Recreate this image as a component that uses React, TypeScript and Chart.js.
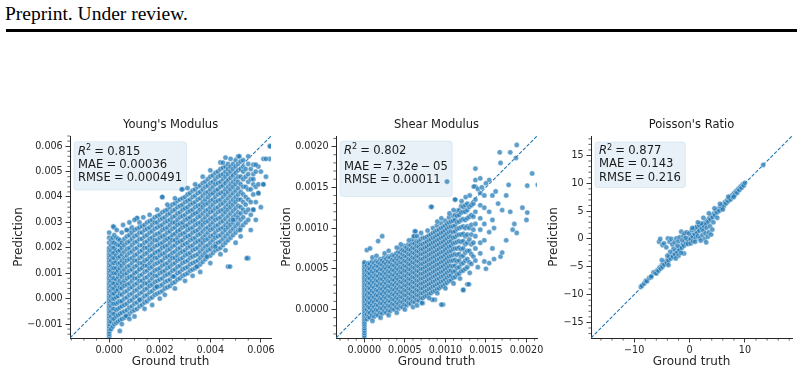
import React, { useEffect, useRef } from 'react';
import { Chart, registerables } from 'chart.js';

Chart.register(...registerables);

const FONT = "'DejaVu Sans', 'Noto Sans', sans-serif";
const INK = '#262626';
const BLUE = '#1f77b4';

// ---------------- data ----------------
const panelTitles = ["Young's Modulus", 'Shear Modulus', "Poisson's Ratio"];
const metricNames = ['R2', 'MAE', 'RMSE'];
const youngMetrics = ['0.815', '0.00036', '0.000491'];
const shearMetrics = ['0.802', '7.32e-05', '0.00011'];
const poissonMetrics = ['0.877', '0.143', '0.216'];

const youngLimits = [-0.00155, 0.0064];
const shearLimits = [-0.00035, 0.00213];
const poissonLimits = [-17.8, 18.5];

const youngXTicks = [0, 0.002, 0.004, 0.006];
const youngXTickLabels = ['0.000', '0.002', '0.004', '0.006'];
const youngYTicks = [-0.001, 0, 0.001, 0.002, 0.003, 0.004, 0.005, 0.006];
const youngYTickLabels = ['\u22120.001', '0.000', '0.001', '0.002', '0.003', '0.004', '0.005', '0.006'];
const shearTicks = [0, 0.0005, 0.001, 0.0015, 0.002];
const shearTickLabels = ['0.0000', '0.0005', '0.0010', '0.0015', '0.0020'];
const poissonXTicks = [-10, 0, 10];
const poissonXTickLabels = ['\u221210', '0', '10'];
const poissonYTicks = [-15, -10, -5, 0, 5, 10, 15];
const poissonYTickLabels = ['\u221215', '\u221210', '\u22125', '0', '5', '10', '15'];

// Young's modulus: [ground truth, predictions...] in units of 1e-4
const youngUnit = 1e-4;
const youngColumns: number[][] = [
  [0, -15, -14, -13, -12, -11, -10, -9, -8, -7, -6, -5, -4, -3, -2, -1, 0, 1, 2, 3, 4, 5, 6, 7, 8, 9, 10, 11, 12, 13, 14, 15, 16, 17, 18, 19, 20, 22, 24, 26],
  [0.8, -12, -9, -7, -5, -3, -1, 1, 3, 5, 7, 9, 11, 13, 15, 17, 19, 21, 23],
  [1.4, -11, -8, -6, -4, -2, 0, 2, 4, 6, 8, 10, 12, 14, 16, 18, 20, 22, 24],
  [2, -10, -8, -6, -4, -2, 0, 2, 4, 6, 8, 10, 12, 14, 16, 18, 20, 22, 25, 28],
  [2.8, -9.5, -7, -4.5, -2, 0.5, 3, 5, 7.5, 10, 12, 14.5, 17, 19, 21.5, 24],
  [3.5, -9, -6.5, -4, -1.5, 1, 3.5, 6, 8.5, 11, 13.5, 16, 18.5, 21, 23.5],
  [4.2, -8.5, -6, -3.5, -1, 2, 4.5, 7, 9.5, 12, 14, 16.5, 19, 21, 23],
  [5, -8, -5.5, -3, -1, 1.5, 4, 6, 8.5, 10.5, 13, 15, 17.5, 20, 22, 26],
  [6, -7.5, -5, -2.5, 0, 2.5, 5, 7, 9.5, 11.5, 14, 16, 18.5, 21, 23.5],
  [7, -7, -4.5, -2, 0.5, 3, 5.5, 8, 10, 12.5, 15, 17, 19.5, 22, 24.5, 27],
  [8, -6, -3.5, -1, 1.5, 4, 6, 8.5, 11, 13, 15.5, 18, 20, 22.5, 25, 27],
  [9, -5, -3, -0.5, 2, 4.5, 7, 9, 11.5, 14, 16, 18.5, 21, 23.5, 26, 28],
  [10, -4.5, -2, 0.5, 3, 5.5, 8, 10, 12.5, 15, 17, 19.5, 22, 24.5, 27],
  [11, -4, -1.5, 1, 3.5, 6, 8, 10.5, 13, 15, 17.5, 20, 22.5, 25, 27.5, 31.7],
  [12, -3, -0.5, 2, 4.5, 7, 9, 11.5, 14, 16, 18.5, 21, 23.5, 26, 28, 30],
  [13, -2.5, 0, 2.5, 5, 7, 9.5, 12, 14, 16.5, 19, 21, 23.5, 26, 28.5],
  [14, -1.5, 1, 3.5, 6, 8, 10.5, 13, 15, 17.5, 20, 22, 24.5, 27, 29],
  [15, -1, 1.5, 4, 6, 8.5, 11, 13, 15.5, 18, 20, 22.5, 25, 27.5, 30],
  [16, 0, 2.5, 5, 7, 9.5, 12, 14, 16.5, 19, 21, 23.5, 26, 28, 30.5],
  [17, 0.5, 3, 5.5, 8, 10, 12.5, 15, 17, 19.5, 22, 24, 26.5, 29, 31],
  [18, 1.5, 4, 6.5, 9, 11, 13.5, 16, 18, 20.5, 23, 25, 27.5, 30, 32],
  [19, 2, 4.5, 7, 9, 11.5, 14, 16, 18.5, 21, 23, 25.5, 28, 30, 32.5],
  [20, 2.5, 5, 7.5, 10, 12, 14.5, 17, 19, 21.5, 24, 26, 28.5, 31, 33],
  [21, 3, 5.5, 8, 10.5, 13, 15, 17.5, 20, 22, 24.5, 27, 29, 31.5, 34, 40],
  [22, 4, 6.5, 9, 11, 13.5, 16, 18, 20.5, 23, 25, 27.5, 30, 32, 34.5],
  [23, 4.5, 7, 9.5, 12, 14, 16.5, 19, 21, 23.5, 26, 28, 30.5, 33, 35],
  [24, 5, 7.5, 10, 12.5, 15, 17, 19.5, 22, 24, 26.5, 29, 31, 33.5, 36],
  [25, 6, 8.7, 11, 13.5, 16, 18, 20.5, 23, 25, 27.5, 30, 32, 34.5, 37],
  [26, 6.5, 9, 11.5, 14, 16, 18.5, 21, 23, 25.5, 28, 30, 32.5, 35, 37.5],
  [27, 7.5, 10, 12.5, 15, 17, 19.5, 22, 24, 26.5, 29, 31, 33.5, 36, 38.5],
  [28, 8, 10.5, 13, 15.5, 18, 20, 22.5, 25, 27, 29.5, 32, 34, 36.5, 39],
  [29, 9, 11.5, 14, 16, 18.5, 21, 23, 25.5, 28, 30, 32.5, 35, 37, 39.5, 43],
  [30, 9.5, 12, 14.5, 17, 19, 21.5, 24, 26, 28.5, 31, 33, 35.5, 38, 40],
  [31, 10, 12.5, 15, 17.5, 20, 22, 24.5, 27, 29, 31.5, 34, 36, 38.5, 41],
  [32, 11, 13.5, 16, 18, 20.5, 23, 25, 27.5, 30, 32, 34.5, 37, 39, 41.5],
  [33, 11.5, 14, 16.5, 19, 21, 23.5, 26, 28, 30.5, 33, 35, 37.5, 40, 42.5],
  [34, 12, 14.5, 17, 19.5, 22, 24, 26.5, 29, 31, 33.5, 36, 38, 40.5, 43],
  [35, 12.6, 15, 17.5, 20, 22.5, 25, 27, 29.5, 32, 34, 36.5, 39, 41.5, 44],
  [36, 13.5, 16, 18.5, 21, 23, 25.5, 28, 30, 32.5, 35, 37, 39.5, 42, 44.5],
  [37, 14.5, 17, 19.5, 22, 24, 26.5, 29, 31, 33.5, 36, 38, 40.5, 43, 45.5],
  [38, 15.5, 18, 20.5, 23, 25, 27.5, 30, 32, 34.5, 37, 39, 41.5, 44, 46],
  [39, 16.5, 19, 21, 23.5, 26, 28, 30.5, 33, 35, 37.5, 40, 42, 44.5, 47],
  [40, 17, 19.5, 22, 24.5, 27, 29, 31.5, 34, 36, 38.5, 41, 43, 45.5, 48],
  [41, 18, 20.5, 23, 25, 27.5, 30, 32, 34.5, 37, 39, 41.5, 44, 46, 48.5],
  [42, 19, 21.5, 24, 26, 28.5, 31, 33, 35.5, 38, 40, 42.5, 45, 47, 49.5],
  [43, 19.5, 22, 24.5, 27, 29, 31.5, 34, 36, 38.5, 41, 43, 45.5, 48, 50],
  [44, 20, 22.5, 25, 27.5, 30, 32, 34.5, 37, 39, 41.5, 44, 46, 48.5, 51],
  [45, 21, 23.5, 26, 28, 30.5, 33, 35, 37.5, 40, 42, 44.5, 47, 49, 51.5],
  [46, 22, 24.5, 27, 29, 31.5, 34, 36, 38.5, 41, 43, 45.5, 48, 50, 52],
  [47, 12.6, 23, 25.5, 28, 30, 32.5, 35, 37, 39.5, 42, 44, 46.5, 49, 51, 53],
  [48, 24, 26.5, 29, 31, 33.5, 36, 38, 40.5, 43, 45, 47.5, 50, 52],
  [49, 25, 27.5, 30, 32, 34.5, 37, 39, 41.5, 44, 46, 48.5, 51, 53],
  [50, 26, 28.5, 31, 33, 35.5, 38, 40, 42.5, 45, 47, 49.5, 52, 54.5],
  [51, 27, 29.5, 32, 34, 36.5, 39, 41, 43.5, 46, 48, 50.5, 53, 56],
  [52, 28, 31, 33.5, 36, 39, 42, 45, 48, 51, 54],
  [53, 29, 32, 35, 38, 41, 44, 47, 50, 52],
  [54, 30, 34, 37, 40, 44, 48, 51],
  [55, 15.9, 31, 35, 39, 43, 46, 49, 53],
  [56, 33, 38, 43, 47, 51],
  [57, 35, 41, 45, 49, 52.7],
  [58, 38, 44, 50],
  [59, 41.5, 45, 52],
  [61, 45, 55],
  [63.5, 55, 60],
];
const youngOutliers: number[][] = [
  [1.6, 28.4], [4.2, -12.7], [6.6, -6.8], [6.9, 27], [11, 31.7], [12, -0.5], [18.8, 4.7], [21, 40],
  [25.4, 8.7], [28.7, 43], [34.6, 12.6], [38.6, 16.5], [42, 20.5], [44, 53.6], [47.8, 12.6], [49, 31],
  [51.5, 56], [51.8, 27], [54.4, 15.9], [57, 35], [58, 52.7], [59, 41.5], [61, 45], [62, 55], [63.7, 60],
  [3, 27], [5.5, 29], [8, 30], [10, 31], [13.5, 32], [16, 33], [19, 35], [23, 37], [26, 39.5], [31, 43.5],
  [34, 45], [37, 48], [40, 50.5], [45, 53.5], [48, 55], [53, 54.5], [55, 56], [46, 55.5],
  [5, -10], [8, -8], [10, -7], [14, -4], [17, -2.5], [20, 0], [22, 1.5], [26, 4], [30, 7], [33, 9],
  [36, 10.5], [40, 14], [44, 17.5], [46, 19], [50, 22], [52, 24.5], [56, 27], [58, 31], [60, 36],
  [62, 48], [60, 50], [57, 47],
];

// Shear modulus: [ground truth, predictions...] in units of 1e-5
const shearUnit = 1e-5;
const shearColumns: number[][] = [
  [0, -35, -32, -29, -26, -23, -20, -18, -16, -14, -12, -10, -8, -6, -4, -2, 0, 2, 4, 6, 8, 10, 12, 14, 16, 18, 20, 22, 24, 26, 28, 30, 32, 34, 36, 38, 40, 42, 44, 46, 48, 50, 52, 54, 56, 58],
  [3, -12, -6, 0, 6, 12, 18, 24, 30, 36, 42, 48, 54, 73],
  [5, -9, -3, 3, 9, 15, 21, 27, 33, 39, 45, 51, 57],
  [7, -10, -4, 2, 8, 14, 20, 26, 32, 38, 44, 50, 56, 75],
  [9.5, -7, -1, 5, 11, 17, 23, 29, 35, 41, 47, 53, 59],
  [12, -9, -3, 3, 9, 15, 21, 27, 33, 39, 45, 51, 57],
  [14.5, -6, 0, 6, 12, 18, 24, 30, 36, 42, 48, 54, 60],
  [17, -7, -1, 5, 11, 17, 23, 29, 35, 41, 47, 53, 58, 84],
  [19.5, -4, 2, 8, 14, 20, 26, 32, 38, 44, 50, 56, 62],
  [22, -5, 1, 7, 13, 19, 25, 31, 37, 43, 49, 55, 60, 90],
  [24.5, -2, 4, 10, 16, 22, 28, 34, 40, 46, 52, 58, 64],
  [27, -4, 2, 8, 14, 20, 26, 32, 38, 44, 50, 56, 62],
  [29.5, -1, 5, 11, 17, 23, 29, 35, 41, 47, 53, 59, 65],
  [32, -2, 4, 10, 16, 22, 28, 34, 40, 46, 52, 58, 64],
  [34.5, 1, 7, 13, 19, 25, 31, 37, 43, 49, 55, 61, 67],
  [37, 0, 6, 12, 18, 24, 30, 36, 42, 48, 54, 60, 66],
  [39.5, 3, 9, 15, 21, 27, 33, 39, 45, 51, 57, 63, 69],
  [42, 1, 7, 13, 19, 25, 31, 37, 43, 49, 55, 61, 66, 71],
  [44.5, 4, 10, 16, 22, 28, 34, 40, 46, 52, 58, 64, 70, 75],
  [47, 3, 9, 15, 21, 27, 33, 39, 45, 51, 57, 63, 68, 73],
  [49.5, 6, 12, 18, 24, 30, 36, 42, 48, 54, 60, 66, 72, 78],
  [52, 5, 11, 17, 23, 29, 35, 41, 47, 53, 59, 65, 71, 76],
  [54.5, 8, 14, 20, 26, 32, 38, 44, 50, 56, 62, 68, 74, 80],
  [57, 7, 13, 19, 25, 31, 37, 43, 49, 55, 61, 67, 73, 79],
  [59.5, 10, 16, 22, 28, 34, 40, 46, 52, 58, 64, 70, 76, 82, 86],
  [62, 9, 15, 21, 27, 33, 39, 45, 51, 57, 63, 69, 75, 81, 90, 96],
  [64.5, 12, 18, 24, 30, 36, 42, 48, 54, 60, 66, 72, 78, 84],
  [67, 11, 17, 23, 29, 35, 41, 47, 53, 59, 65, 71, 77, 83],
  [69.5, 14, 20, 26, 32, 38, 44, 50, 56, 62, 68, 74, 80, 86],
  [72, 8, 14, 20, 26, 32, 38, 44, 50, 56, 62, 68, 74, 80, 88],
  [74.5, 16, 22, 28, 34, 40, 46, 52, 58, 64, 70, 76, 82, 88],
  [77, 17, 23, 29, 35, 41, 47, 53, 59, 65, 71, 77, 83, 89],
  [79.5, 19, 25, 31, 37, 43, 49, 55, 61, 67, 73, 79, 85, 91],
  [82, 20, 26, 32, 38, 44, 50, 56, 62, 68, 74, 80, 86, 92, 126],
  [84.5, 22, 28, 34, 40, 46, 52, 58, 64, 70, 76, 82, 88, 94, 100],
  [87, 12, 23, 29, 35, 41, 47, 53, 59, 65, 71, 77, 83, 89, 95],
  [89.5, 25, 31, 37, 43, 49, 55, 61, 67, 73, 79, 85, 91, 97, 103],
  [92, 26, 32, 38, 44, 50, 56, 62, 68, 74, 80, 86, 92, 98],
  [94.5, 28, 34, 40, 46, 52, 58, 64, 70, 76, 82, 88, 94, 100, 106],
  [97, 6, 29, 35, 41, 47, 53, 59, 65, 71, 77, 83, 89, 95, 101],
  [99.5, 31, 37, 43, 49, 55, 61, 67, 73, 79, 85, 91, 97, 103, 109],
  [102, 33, 39, 45, 51, 57, 63, 69, 75, 81, 87, 93, 99, 105, 157],
  [104.5, 35, 41, 47, 53, 59, 65, 71, 77, 83, 89, 95, 101, 107, 113],
  [107, 36, 42, 48, 54, 60, 66, 72, 78, 84, 90, 96, 102, 108],
  [109.5, 39, 46, 53, 60, 67, 74, 81, 88, 95, 102, 109, 115],
  [112, 40, 47, 54, 61, 68, 75, 82, 89, 96, 103, 110, 116, 135],
  [114.5, 43, 51, 59, 67, 75, 83, 91, 99, 107, 115, 121],
  [117, 44, 52, 60, 68, 76, 84, 92, 100, 108, 116, 122],
  [119.5, 47, 56, 65, 74, 83, 92, 101, 110, 119, 127],
  [122, 24, 48, 57, 66, 75, 84, 93, 102, 111, 120, 126],
  [124.5, 50, 60, 70, 80, 90, 100, 110, 120, 128],
  [127, 31, 52, 62, 72, 82, 92, 102, 112, 122, 130],
  [129.5, 58, 72, 86, 100, 114, 126],
  [132, 56, 68, 80, 92, 104, 116, 128],
  [134.5, 65, 82, 98, 114, 130],
  [137, 60, 75, 90, 105, 120, 135, 151, 159, 173],
  [143, 69, 82, 98, 112, 128, 143, 161],
  [148, 59, 85, 105, 125, 140],
  [154, 57, 95, 120, 159],
  [158, 75, 110, 140],
];
const shearOutliers: number[][] = [
  [162, 145], [167, 193], [168, 180], [168, 65], [170, 122], [178, 153], [180, 193], [183, 98],
  [187, 186], [188, 202], [188, 94], [200, 110], [201, 119], [201, 152], [207, 167], [214, 153],
  [63, 96], [61, 90], [83, 126], [112, 135], [135, 151], [122, 24], [129, 31], [84, 12], [71, 8], [95, 6],
  [10, 64], [15, 66], [25, 69], [30, 72], [40, 76], [45, 80], [55, 85], [65, 90], [70, 94], [78, 97],
  [90, 108], [95, 112], [105, 118], [110, 122], [120, 133], [125, 138], [130, 140], [140, 148], [145, 150],
  [150, 155], [10, -14], [20, -10], [30, -7], [40, -4], [50, 0], [60, 3], [65, 5], [80, 14], [90, 20],
  [100, 26], [110, 32], [118, 38], [130, 45], [140, 52], [150, 50], [160, 62], [170, 70], [175, 85],
  [185, 105], [195, 125], [160, 100], [165, 130], [175, 140], [180, 120],
];

// Poisson's ratio: [ground truth, prediction]
const poissonPoints: number[][] = [
  [-8.8, -8.6], [-8.6, -8.4], [-8.2, -8.0], [-7.9, -7.5], [-7.7, -7.6], [-7.3, -7.0], [-7.0, -6.9], [-6.9, -6.7],
  [-6.5, -6.0], [-6.2, -6.0], [-6.0, -6.2], [-5.8, -5.6], [-5.6, -5.7], [-5.4, -5.1], [-5.2, -5.3], [-5.0, -4.7],
  [-4.9, -5.0], [-4.7, -4.4], [-4.5, -4.6], [-4.3, -4.0], [-4.1, -4.3], [-3.9, -3.6], [-3.8, -3.9], [-3.6, -3.2],
  [-3.4, -3.5], [-3.2, -2.9], [-3.0, -3.2], [-2.8, -2.5], [-2.6, -2.8], [-2.4, -2.1], [-2.2, -2.4], [-2.0, -1.7],
  [-1.8, -2.0], [-1.6, -1.3], [-1.4, -1.6], [-1.2, -0.9], [-1.0, -1.2], [-0.8, -0.5], [-0.6, -0.8], [-0.4, -0.2],
  [-0.2, -0.4], [0, 0.2], [0.2, 0], [0.4, 0.6], [0.6, 0.4], [0.8, 1.0], [1.0, 0.8], [1.2, 1.4], [1.4, 1.1],
  [1.6, 1.8], [1.8, 1.5], [2.0, 2.2], [2.2, 1.9], [2.4, 2.6], [2.6, 2.3], [2.8, 3.0], [3.0, 2.7], [3.2, 3.4],
  [3.4, 3.1], [3.6, 3.8], [3.8, 3.5], [4.0, 4.2], [4.2, 3.9], [4.4, 4.6], [4.6, 4.3], [4.8, 5.0], [5.0, 4.8],
  [5.2, 5.4], [5.4, 5.1], [5.6, 5.8], [5.8, 5.6], [6.0, 6.2], [6.2, 5.9], [6.4, 6.6], [6.6, 6.4], [6.8, 7.0],
  [7.0, 6.8], [7.2, 7.3], [7.4, 7.1], [7.6, 7.8], [7.8, 7.5], [8.0, 8.2], [8.2, 8.0], [8.4, 8.6], [8.6, 8.3],
  [8.8, 9.0], [9.0, 8.8], [9.2, 9.4], [9.4, 9.2], [9.6, 9.8], [9.8, 9.6], [10.0, 10.1], [13.3, 13.3],
  [-5.5, -0.5], [-5.3, 0], [-4.9, -1.1], [-4.6, -0.8], [-4.2, -1.5], [-3.9, 0.1], [-3.6, -0.5], [-3.3, 0],
  [-3.1, -1.0], [-2.9, -1.8], [-2.7, -0.6], [-2.4, 0.1], [-2.2, -1.2], [-2.0, -0.4], [-1.8, 0.3], [-1.5, 1.3],
  [-1.3, -0.2], [-1.1, 0.6], [-0.9, 1.0], [-0.7, 0.2], [-0.5, 1.2], [-0.3, -0.9], [-0.1, 1.0], [0.2, -0.8],
  [0.4, 1.6], [0.6, -0.4], [0.9, 1.9], [1.1, 0.1], [1.3, 2.2], [1.5, 0.5], [1.7, 2.5], [1.9, 0.2], [2.1, 2.8],
  [2.3, 0.7], [2.5, 1.5], [2.7, 0.0], [2.9, 1.0], [3.1, 2.0], [3.3, 0.4], [3.5, 1.2], [3.7, 2.3], [3.9, 0.8],
  [4.1, 1.7], [4.3, 3.0], [3.0, -0.6], [2.0, -0.3], [1.0, -0.5], [-1.0, -2.6], [-2.0, -3.0], [-3.5, -2.3],
  [-4.0, -3.0], [-5.0, -3.8], [-3.8, -4.7], [-2.5, -3.5], [-1.5, -2.5], [0.5, 2.0], [1.5, 3.0], [2.5, 3.8],
  [3.5, 4.6], [4.5, 5.5], [5.5, 6.3], [5.0, 3.8], [6.0, 5.3], [7.0, 7.6], [8.0, 7.6],
];

// ---------------- helpers ----------------
type Pt = { x: number; y: number };
function fromColumns(cols: number[][], unit: number): Pt[] {
  const out: Pt[] = [];
  for (const [gt, ...preds] of cols) for (const p of preds) out.push({ x: gt * unit, y: p * unit });
  return out;
}
function fromPairs(pairs: number[][], unit: number): Pt[] {
  return pairs.map(([x, y]) => ({ x: x * unit, y: y * unit }));
}

type Seg = { t: string; it?: boolean; sup?: boolean; gap?: number };
function metricSegs(name: string, value: string): Seg[] {
  const out: Seg[] = [];
  if (name === 'R2') {
    out.push({ t: 'R', it: true });
    out.push({ t: '2', sup: true });
  } else out.push({ t: name });
  out.push({ t: '=', gap: 0.27 });
  const m = value.match(/^([\d.]+)e-(\d+)$/);
  if (m) {
    out.push({ t: m[1] });
    out.push({ t: 'e', it: true });
    out.push({ t: '\u2212', gap: 0.22 });
    out.push({ t: m[2] });
  } else out.push({ t: value });
  return out;
}
function segFont(s: Seg, size: number) {
  const fs = s.sup ? size * 0.7 : size;
  return `${s.it ? 'italic ' : ''}${fs}px ${FONT}`;
}
function measureSegs(ctx: CanvasRenderingContext2D, segs: Seg[], size: number) {
  let w = 0;
  for (const s of segs) {
    ctx.font = segFont(s, size);
    w += ctx.measureText(s.t).width + (s.gap ? 2 * s.gap * size : 0);
  }
  return w;
}
function drawSegs(ctx: CanvasRenderingContext2D, x: number, yMid: number, segs: Seg[], size: number) {
  let cx = x;
  const base = yMid + size * 0.36;
  for (const s of segs) {
    ctx.font = segFont(s, size);
    if (s.gap) cx += s.gap * size;
    ctx.fillText(s.t, cx, s.sup ? base - size * 0.38 : base);
    cx += ctx.measureText(s.t).width;
    if (s.gap) cx += s.gap * size;
  }
}
function roundRect(ctx: CanvasRenderingContext2D, x: number, y: number, w: number, h: number, r: number) {
  ctx.beginPath();
  ctx.moveTo(x + r, y);
  ctx.arcTo(x + w, y, x + w, y + h, r);
  ctx.arcTo(x + w, y + h, x, y + h, r);
  ctx.arcTo(x, y + h, x, y, r);
  ctx.arcTo(x, y, x + w, y, r);
  ctx.closePath();
}

interface PanelCfg {
  title: string;
  metrics: string[];
  points: Pt[];
  limits: number[];
  xTicks: number[];
  xLabels: string[];
  yTicks: number[];
  yLabels: string[];
  minorX: number;
  minorY: number;
  canvasLeft: number;
  canvasWidth: number;
  areaLeft: number;
  yTitlePad: number;
  lineYs: number[];
  boxTop: number;
  boxBottom: number;
}

const PANELS: PanelCfg[] = [
  {
    title: panelTitles[0], metrics: youngMetrics,
    points: [...fromColumns(youngColumns, youngUnit), ...fromPairs(youngOutliers, youngUnit)],
    limits: youngLimits, xTicks: youngXTicks, xLabels: youngXTickLabels, yTicks: youngYTicks, yLabels: youngYTickLabels,
    minorX: 0.0005, minorY: 0.0002,
    canvasLeft: 0, canvasWidth: 283, areaLeft: 70, yTitlePad: 11.8,
    lineYs: [14.7, 27.5, 40.7], boxTop: 5.7, boxBottom: 54,
  },
  {
    title: panelTitles[1], metrics: shearMetrics,
    points: [...fromColumns(shearColumns, shearUnit), ...fromPairs(shearOutliers, shearUnit)],
    limits: shearLimits, xTicks: shearTicks, xLabels: shearTickLabels, yTicks: shearTicks, yLabels: shearTickLabels,
    minorX: 0.0001, minorY: 0.0001,
    canvasLeft: 276, canvasWidth: 273, areaLeft: 336, yTitlePad: 3.5,
    lineYs: [13.5, 29.5, 42.5], boxTop: 5, boxBottom: 60.5,
  },
  {
    title: panelTitles[2], metrics: poissonMetrics,
    points: fromPairs(poissonPoints, 1),
    limits: poissonLimits, xTicks: poissonXTicks, xLabels: poissonXTickLabels, yTicks: poissonYTicks, yLabels: poissonYTickLabels,
    minorX: 2, minorY: 1,
    canvasLeft: 544, canvasWidth: 260, areaLeft: 591, yTitlePad: 2.8,
    lineYs: [14, 27.3, 40.7], boxTop: 6, boxBottom: 51.7,
  },
];

const AREA_TOP = 136;
const AREA_BOTTOM = 338;
const H = 374;

function Panel({ cfg }: { cfg: PanelCfg }) {
  const ref = useRef<HTMLCanvasElement | null>(null);
  useEffect(() => {
    if (!ref.current) return;
    const tickFont = { family: FONT, size: 9.6 };
    const labelFont = { family: FONT, size: 12 };
    const decor = {
      id: 'decor',
      afterDraw(chart: any) {
        const ctx: CanvasRenderingContext2D = chart.ctx;
        const a = chart.chartArea;
        const xs = chart.scales.x;
        const ys = chart.scales.y;
        ctx.save();
        // minor ticks
        ctx.strokeStyle = INK;
        ctx.lineWidth = 0.7;
        ctx.beginPath();
        for (let k = Math.ceil(xs.min / cfg.minorX - 1e-6); k * cfg.minorX <= xs.max + 1e-12; k++) {
          const v = k * cfg.minorX;
          if (cfg.xTicks.some((m) => Math.abs(m - v) < cfg.minorX * 1e-3)) continue;
          const px = xs.getPixelForValue(v);
          ctx.moveTo(px, a.bottom);
          ctx.lineTo(px, a.bottom + 2.6);
        }
        for (let k = Math.ceil(ys.min / cfg.minorY - 1e-6); k * cfg.minorY <= ys.max + 1e-12; k++) {
          const v = k * cfg.minorY;
          if (cfg.yTicks.some((m) => Math.abs(m - v) < cfg.minorY * 1e-3)) continue;
          const py = ys.getPixelForValue(v);
          ctx.moveTo(a.left, py);
          ctx.lineTo(a.left - 2.6, py);
        }
        ctx.stroke();
        // title
        ctx.fillStyle = '#1a1a1a';
        ctx.font = `11.5px ${FONT}`;
        ctx.textAlign = 'center';
        ctx.textBaseline = 'middle';
        ctx.fillText(cfg.title, (a.left + a.right) / 2, a.top - 11);
        // metrics box
        const size = 11.6;
        ctx.textAlign = 'left';
        ctx.textBaseline = 'alphabetic';
        const lines = metricNames.map((n, i) => metricSegs(n, cfg.metrics[i]));
        const maxW = Math.max(...lines.map((l) => measureSegs(ctx, l, size)));
        const bx = a.left + 4;
        const by = a.top + cfg.boxTop;
        const bw = maxW + 8.5;
        const bh = cfg.boxBottom - cfg.boxTop;
        roundRect(ctx, bx, by, bw, bh, 3);
        ctx.fillStyle = 'rgba(31,119,180,0.1)';
        ctx.fill();
        ctx.strokeStyle = 'rgba(31,119,180,0.1)';
        ctx.lineWidth = 1;
        ctx.stroke();
        ctx.fillStyle = '#1a1a1a';
        lines.forEach((l, i) => drawSegs(ctx, a.left + 8, a.top + cfg.lineYs[i], l, size));
        ctx.restore();
      },
    };
    const lim = cfg.limits;
    const chart = new Chart(ref.current, {
      type: 'scatter',
      data: {
        datasets: [
          {
            data: cfg.points,
            backgroundColor: 'rgba(31,119,180,0.72)',
            borderColor: 'rgba(255,255,255,0.75)',
            borderWidth: 0.5,
            pointRadius: 2.6,
            clip: 0,
            order: 1,
          } as any,
          {
            data: [{ x: lim[0], y: lim[0] }, { x: lim[1], y: lim[1] }],
            showLine: true,
            borderColor: BLUE,
            borderWidth: 1.1,
            borderDash: [3.7, 1.6],
            pointRadius: 0,
            fill: false,
            clip: 0,
            order: 2,
          } as any,
        ],
      },
      options: {
        animation: false,
        responsive: false,
        maintainAspectRatio: false,
        events: [],
        layout: { padding: { left: 0, right: 12, top: AREA_TOP, bottom: 0 } },
        plugins: { legend: { display: false }, tooltip: { enabled: false }, title: { display: false } },
        scales: {
          x: {
            type: 'linear',
            position: 'bottom',
            min: lim[0],
            max: lim[1],
            afterBuildTicks: (s: any) => { s.ticks = cfg.xTicks.map((v) => ({ value: v })); },
            afterFit: (s: any) => { s.height = H - AREA_BOTTOM; },
            ticks: {
              autoSkip: false, maxRotation: 0, minRotation: 0, padding: 2, font: tickFont, color: INK,
              callback: (_v: any, i: number) => cfg.xLabels[i],
            },
            grid: { drawOnChartArea: false, drawTicks: true, tickLength: 4.5, color: INK, lineWidth: 0.9 },
            border: { display: true, color: INK, width: 1 },
            title: { display: true, text: 'Ground truth', font: labelFont, color: INK, padding: { top: 0, bottom: 4.8 } },
          },
          y: {
            type: 'linear',
            position: 'left',
            min: lim[0],
            max: lim[1],
            afterBuildTicks: (s: any) => { s.ticks = cfg.yTicks.map((v) => ({ value: v })); },
            afterFit: (s: any) => { s.width = cfg.areaLeft - cfg.canvasLeft; },
            ticks: {
              autoSkip: false, padding: 2.8, font: tickFont, color: INK,
              callback: (_v: any, i: number) => cfg.yLabels[i],
            },
            grid: { drawOnChartArea: false, drawTicks: true, tickLength: 4.5, color: INK, lineWidth: 0.9 },
            border: { display: true, color: INK, width: 1 },
            title: { display: true, text: 'Prediction', font: labelFont, color: INK, padding: { top: cfg.yTitlePad, bottom: 0 } },
          },
        },
      } as any,
      plugins: [decor as any],
    });
    return () => chart.destroy();
  }, [cfg]);
  return (
    <canvas
      ref={ref}
      width={cfg.canvasWidth}
      height={H}
      style={{ position: 'absolute', left: cfg.canvasLeft, top: 0, width: cfg.canvasWidth, height: H }}
    />
  );
}

export default function App() {
  return (
    <div style={{ position: 'absolute', left: 0, top: 0, width: 804, height: 374, background: '#fff', overflow: 'hidden' }}>
      <div
        style={{
          position: 'absolute', left: 5, top: 3.7, fontFamily: "'Liberation Serif', serif", fontSize: 19.5,
          lineHeight: '19.5px', whiteSpace: 'nowrap', color: '#000',
        }}
      >
        Preprint. Under review.
      </div>
      <div style={{ position: 'absolute', left: 6, top: 29, width: 791, height: 3, background: '#000' }} />
      {PANELS.map((p, i) => (
        <Panel key={i} cfg={p} />
      ))}
    </div>
  );
}
